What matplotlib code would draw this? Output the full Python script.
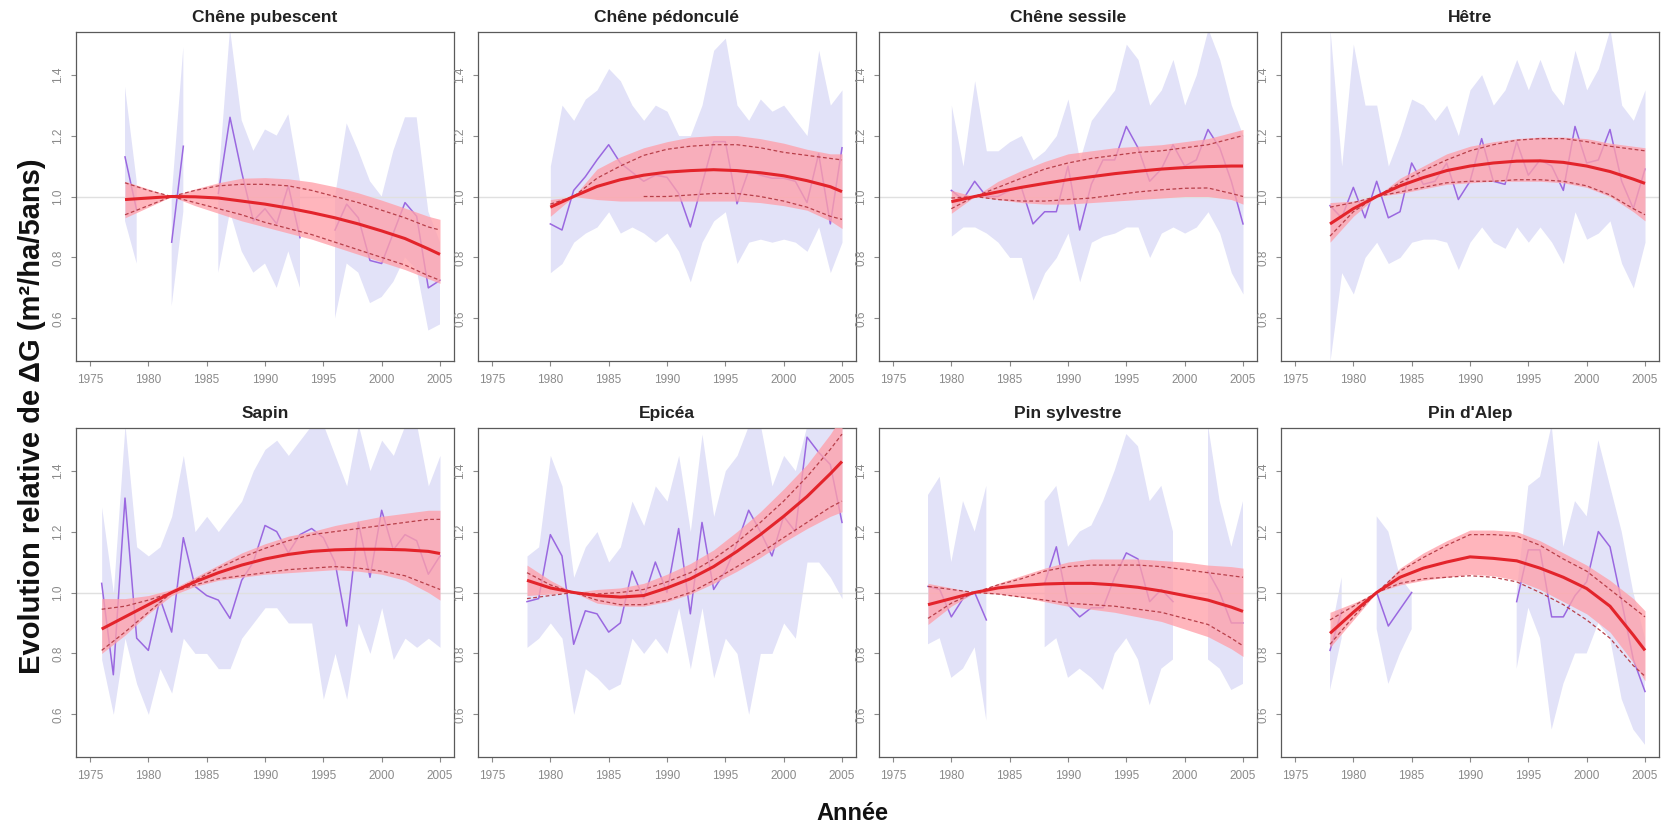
import numpy as np
import matplotlib
matplotlib.use("Agg")
import matplotlib.pyplot as plt

plt.rcParams['font.family'] = ['Liberation Sans', 'DejaVu Sans']

N = None
SPECIES = ["Chêne pubescent", "Chêne pédonculé", "Chêne sessile", "Hêtre",
           "Sapin", "Epicéa", "Pin sylvestre", "Pin d'Alep"]
OBS_YEARS = list(range(1976, 2006))
FIT_START = [1978, 1980, 1980, 1978, 1976, 1978, 1978, 1978]
X_TICKS = [1975, 1980, 1985, 1990, 1995, 2000, 2005]
Y_TICKS = [0.6, 0.8, 1.0, 1.2, 1.4]

# ---- observed mean (purple) and envelope of plots (lavender), 1976..2005 ----
PUB_OBS = [N, N, 1.13, 0.955, N, N, 0.85, 1.165, N, N, 1.01, 1.26, 1.08, 0.92, 0.96, 0.91, 1.035, 0.865,
           N, N, 0.89, 0.975, 0.93, 0.79, 0.78, 0.88, 0.98, 0.935, 0.70, 0.725]
PUB_LO = [N, N, 0.92, 0.78, N, N, 0.64, 0.95, N, N, 0.75, 0.95, 0.82, 0.75, 0.78, 0.70, 0.82, 0.70,
          N, N, 0.60, 0.78, 0.75, 0.65, 0.67, 0.72, 0.80, 0.76, 0.56, 0.58]
PUB_HI = [N, N, 1.36, 1.05, N, N, 1.00, 1.49, N, N, 1.05, 1.55, 1.25, 1.15, 1.22, 1.20, 1.27, 1.05,
          N, N, 1.00, 1.24, 1.15, 1.05, 1.00, 1.15, 1.26, 1.26, 0.95, 0.85]

PED_OBS = [N, N, N, N, 0.91, 0.89, 1.02, 1.065, 1.12, 1.17, 1.11, 1.08, 1.05, 1.07, 1.063, 1.01, 0.90,
           1.04, 1.18, 1.18, 0.976, 1.085, 1.07, 1.06, 1.06, 1.05, 0.98, 1.14, 0.91, 1.16]
PED_LO = [N, N, N, N, 0.75, 0.78, 0.85, 0.88, 0.90, 0.95, 0.88, 0.90, 0.88, 0.85, 0.88, 0.82, 0.72,
          0.85, 0.92, 0.95, 0.78, 0.85, 0.86, 0.85, 0.86, 0.85, 0.82, 0.90, 0.75, 0.85]
PED_HI = [N, N, N, N, 1.10, 1.30, 1.25, 1.32, 1.35, 1.42, 1.38, 1.30, 1.25, 1.30, 1.28, 1.20, 1.20,
          1.30, 1.48, 1.52, 1.30, 1.25, 1.32, 1.28, 1.30, 1.25, 1.20, 1.48, 1.30, 1.35]

SES_OBS = [N, N, N, N, 1.02, 0.99, 1.05, 1.00, 1.00, 1.02, 1.03, 0.91, 0.95, 0.95, 1.10, 0.89, 1.04,
           1.12, 1.12, 1.23, 1.16, 1.05, 1.09, 1.17, 1.10, 1.12, 1.22, 1.16, 1.05, 0.91]
SES_LO = [N, N, N, N, 0.87, 0.90, 0.90, 0.88, 0.85, 0.80, 0.80, 0.66, 0.75, 0.80, 0.88, 0.72, 0.85,
          0.87, 0.88, 0.90, 0.90, 0.80, 0.88, 0.90, 0.88, 0.90, 0.95, 0.88, 0.75, 0.68]
SES_HI = [N, N, N, N, 1.30, 1.10, 1.38, 1.15, 1.15, 1.18, 1.20, 1.12, 1.15, 1.20, 1.32, 1.12, 1.25,
          1.30, 1.35, 1.50, 1.45, 1.30, 1.35, 1.45, 1.30, 1.40, 1.55, 1.45, 1.30, 1.20]

HET_OBS = [N, N, 0.97, 0.93, 1.03, 0.93, 1.05, 0.93, 0.95, 1.11, 1.04, 1.05, 1.11, 0.99, 1.05, 1.19,
           1.05, 1.04, 1.18, 1.07, 1.12, 1.10, 1.02, 1.23, 1.11, 1.12, 1.22, 1.05, 0.96, 1.09]
HET_LO = [N, N, 0.46, 0.75, 0.68, 0.80, 0.85, 0.78, 0.80, 0.85, 0.86, 0.86, 0.85, 0.76, 0.85, 0.90,
          0.85, 0.83, 0.90, 0.85, 0.90, 0.85, 0.78, 0.95, 0.86, 0.88, 0.92, 0.78, 0.70, 0.85]
HET_HI = [N, N, 1.55, 1.10, 1.50, 1.30, 1.30, 1.10, 1.20, 1.32, 1.30, 1.25, 1.30, 1.20, 1.35, 1.40,
          1.30, 1.35, 1.45, 1.35, 1.45, 1.35, 1.30, 1.48, 1.35, 1.42, 1.55, 1.30, 1.25, 1.35]

SAP_OBS = [1.03, 0.73, 1.31, 0.85, 0.81, 0.98, 0.87, 1.18, 1.02, 0.99, 0.975, 0.915, 1.04, 1.10, 1.22,
           1.20, 1.13, 1.19, 1.21, 1.18, 1.10, 0.89, 1.23, 1.05, 1.27, 1.14, 1.19, 1.17, 1.06, 1.12]
SAP_LO = [0.78, 0.60, 0.85, 0.70, 0.60, 0.75, 0.67, 0.85, 0.80, 0.80, 0.75, 0.75, 0.85, 0.90, 0.95,
          0.95, 0.90, 0.90, 0.90, 0.65, 0.80, 0.65, 0.90, 0.80, 0.95, 0.78, 0.85, 0.82, 0.85, 0.82]
SAP_HI = [1.28, 1.00, 1.55, 1.15, 1.12, 1.15, 1.25, 1.45, 1.20, 1.25, 1.20, 1.25, 1.30, 1.40, 1.47,
          1.50, 1.45, 1.50, 1.55, 1.55, 1.45, 1.35, 1.55, 1.40, 1.50, 1.45, 1.55, 1.55, 1.35, 1.45]

EPI_OBS = [N, N, 0.97, 0.98, 1.19, 1.12, 0.83, 0.94, 0.93, 0.87, 0.90, 1.07, 0.98, 1.10, 1.00, 1.21,
           0.93, 1.23, 1.01, 1.07, 1.16, 1.27, 1.20, 1.12, 1.25, 1.20, 1.51, 1.46, 1.42, 1.23]
EPI_LO = [N, N, 0.82, 0.85, 0.90, 0.85, 0.60, 0.75, 0.72, 0.68, 0.70, 0.85, 0.80, 0.85, 0.80, 0.95,
          0.75, 0.95, 0.72, 0.85, 0.80, 0.60, 0.80, 0.80, 0.90, 0.85, 1.10, 1.10, 1.05, 0.98]
EPI_HI = [N, N, 1.12, 1.15, 1.45, 1.35, 1.05, 1.15, 1.20, 1.10, 1.15, 1.30, 1.22, 1.35, 1.30, 1.45,
          1.20, 1.52, 1.25, 1.40, 1.45, 1.55, 1.55, 1.35, 1.45, 1.40, 1.55, 1.55, 1.55, 1.55]

SYL_OBS = [N, N, 1.02, 1.01, 0.92, 0.98, 1.00, 0.91, N, N, N, N, 1.03, 1.15, 0.96, 0.92, 0.95, 0.95,
           1.05, 1.13, 1.11, 0.97, 1.01, 0.97, N, N, 1.07, 1.00, 0.90, 0.90]
SYL_LO = [N, N, 0.83, 0.85, 0.72, 0.75, 0.82, 0.58, N, N, N, N, 0.82, 0.85, 0.72, 0.75, 0.72, 0.68,
          0.80, 0.85, 0.78, 0.63, 0.75, 0.78, N, N, 0.78, 0.75, 0.68, 0.70]
SYL_HI = [N, N, 1.32, 1.38, 1.10, 1.30, 1.20, 1.35, N, N, N, N, 1.30, 1.35, 1.15, 1.20, 1.22, 1.30,
          1.40, 1.52, 1.48, 1.30, 1.35, 1.20, N, N, 1.55, 1.30, 1.15, 1.30]

ALE_OBS = [N, N, 0.81, 0.94, N, N, 1.00, 0.89, 0.945, 1.00, N, N, N, N, N, N, N, N,
           0.97, 1.14, 1.14, 0.92, 0.92, 0.99, 1.035, 1.20, 1.15, 0.97, 0.78, 0.675]
ALE_LO = [N, N, 0.68, 0.85, N, N, 0.88, 0.70, 0.80, 0.88, N, N, N, N, N, N, N, N,
          0.75, 0.95, 0.85, 0.55, 0.70, 0.80, 0.80, 0.90, 0.85, 0.65, 0.55, 0.50]
ALE_HI = [N, N, 0.85, 1.05, N, N, 1.25, 1.20, 1.05, 1.00, N, N, N, N, N, N, N, N,
          1.00, 1.35, 1.38, 1.55, 1.15, 1.30, 1.25, 1.50, 1.35, 1.20, 1.00, 0.85]

# ---- fitted model (every 2 years from start, plus 2005) ----
PUB_FIT = [0.99, 0.995, 1.0, 0.999, 0.995, 0.985, 0.975, 0.962, 0.947, 0.93, 0.91, 0.887, 0.862, 0.828, 0.81]
PUB_BLO = [0.93, 0.965, 1.0, 0.97, 0.945, 0.92, 0.90, 0.88, 0.86, 0.835, 0.81, 0.785, 0.76, 0.73, 0.715]
PUB_BHI = [1.05, 1.025, 1.0, 1.025, 1.045, 1.06, 1.062, 1.058, 1.048, 1.032, 1.012, 0.988, 0.962, 0.935, 0.925]
PUB_DHI = [1.045, 1.02, 1.0, 1.02, 1.035, 1.04, 1.04, 1.035, 1.02, 1.0, 0.98, 0.955, 0.93, 0.90, 0.89]
PUB_DLO = [0.94, 0.97, 1.0, 0.98, 0.96, 0.94, 0.915, 0.895, 0.875, 0.85, 0.825, 0.80, 0.775, 0.74, 0.725]

PED_FIT = [0.965, 1.0, 1.033, 1.055, 1.07, 1.08, 1.085, 1.088, 1.085, 1.078, 1.068, 1.052, 1.032, 1.016]
PED_BLO = [0.935, 1.0, 0.99, 0.985, 0.985, 0.985, 0.985, 0.985, 0.985, 0.98, 0.97, 0.955, 0.92, 0.895]
PED_BHI = [0.99, 1.0, 1.09, 1.13, 1.16, 1.18, 1.195, 1.20, 1.20, 1.19, 1.175, 1.155, 1.14, 1.14]
PED_DHI = [0.975, 1.0, 1.06, 1.10, 1.135, 1.155, 1.165, 1.17, 1.17, 1.16, 1.145, 1.135, 1.125, 1.12]
PED_DLO = [N, N, N, N, 1.0, 1.0, 1.005, 1.01, 1.01, 1.0, 0.985, 0.965, 0.935, 0.925]

SES_FIT = [0.983, 1.0, 1.015, 1.03, 1.043, 1.055, 1.065, 1.075, 1.083, 1.09, 1.095, 1.098, 1.10, 1.10]
SES_BLO = [0.945, 1.0, 0.99, 0.98, 0.975, 0.975, 0.98, 0.985, 0.99, 0.995, 1.0, 1.0, 0.99, 0.975]
SES_BHI = [1.02, 1.0, 1.05, 1.085, 1.115, 1.14, 1.15, 1.16, 1.165, 1.17, 1.18, 1.19, 1.21, 1.22]
SES_DHI = [0.995, 1.0, 1.03, 1.06, 1.09, 1.11, 1.125, 1.135, 1.145, 1.15, 1.16, 1.17, 1.19, 1.20]
SES_DLO = [0.96, 1.0, 0.99, 0.985, 0.985, 0.99, 0.995, 1.005, 1.015, 1.022, 1.027, 1.028, 1.01, 1.0]

HET_FIT = [0.91, 0.96, 1.0, 1.035, 1.062, 1.085, 1.10, 1.11, 1.116, 1.117, 1.112, 1.10, 1.082, 1.057, 1.043]
HET_BLO = [0.85, 0.935, 1.0, 1.01, 1.025, 1.04, 1.045, 1.05, 1.05, 1.05, 1.045, 1.03, 1.0, 0.95, 0.92]
HET_BHI = [0.98, 0.985, 1.0, 1.06, 1.10, 1.14, 1.165, 1.18, 1.19, 1.195, 1.195, 1.19, 1.175, 1.165, 1.16]
HET_DHI = [0.965, 0.98, 1.0, 1.045, 1.085, 1.12, 1.15, 1.17, 1.185, 1.19, 1.19, 1.18, 1.165, 1.155, 1.15]
HET_DLO = [0.87, 0.95, 1.0, 1.015, 1.03, 1.045, 1.05, 1.05, 1.055, 1.055, 1.05, 1.035, 1.005, 0.96, 0.94]

SAP_FIT = [0.88, 0.92, 0.96, 1.0, 1.035, 1.065, 1.09, 1.11, 1.125, 1.135, 1.14, 1.142, 1.142, 1.14, 1.135, 1.128]
SAP_BLO = [0.80, 0.86, 0.93, 0.99, 1.02, 1.04, 1.05, 1.06, 1.065, 1.07, 1.075, 1.07, 1.06, 1.04, 1.0, 0.975]
SAP_BHI = [0.98, 0.98, 0.99, 1.01, 1.05, 1.09, 1.13, 1.16, 1.185, 1.20, 1.22, 1.235, 1.25, 1.26, 1.27, 1.27]
SAP_DHI = [0.945, 0.955, 0.975, 1.0, 1.04, 1.08, 1.115, 1.145, 1.17, 1.19, 1.20, 1.21, 1.22, 1.23, 1.24, 1.24]
SAP_DLO = [0.81, 0.87, 0.935, 1.0, 1.025, 1.045, 1.055, 1.065, 1.075, 1.08, 1.085, 1.08, 1.07, 1.055, 1.025, 1.01]

EPI_FIT = [1.04, 1.015, 1.0, 0.99, 0.985, 0.99, 1.015, 1.045, 1.085, 1.135, 1.19, 1.25, 1.315, 1.39, 1.43]
EPI_BLO = [0.99, 0.995, 1.0, 0.965, 0.955, 0.955, 0.97, 0.995, 1.03, 1.07, 1.115, 1.165, 1.21, 1.25, 1.265]
EPI_BHI = [1.09, 1.04, 1.0, 1.01, 1.015, 1.03, 1.06, 1.095, 1.14, 1.20, 1.265, 1.34, 1.42, 1.52, 1.58]
EPI_DHI = [1.065, 1.025, 1.0, 0.995, 1.0, 1.01, 1.035, 1.065, 1.11, 1.165, 1.23, 1.30, 1.38, 1.47, 1.52]
EPI_DLO = [0.98, 0.99, 1.0, 0.975, 0.96, 0.96, 0.975, 1.0, 1.04, 1.085, 1.13, 1.18, 1.23, 1.28, 1.30]

SYL_FIT = [0.96, 0.98, 1.0, 1.015, 1.023, 1.028, 1.03, 1.03, 1.025, 1.017, 1.005, 0.99, 0.975, 0.952, 0.938]
SYL_BLO = [0.895, 0.955, 1.0, 0.995, 0.985, 0.97, 0.955, 0.945, 0.935, 0.92, 0.905, 0.88, 0.855, 0.815, 0.79]
SYL_BHI = [1.03, 1.015, 1.0, 1.03, 1.055, 1.08, 1.10, 1.11, 1.11, 1.11, 1.105, 1.10, 1.09, 1.085, 1.08]
SYL_DHI = [1.02, 1.01, 1.0, 1.025, 1.045, 1.07, 1.085, 1.09, 1.09, 1.09, 1.085, 1.075, 1.065, 1.055, 1.05]
SYL_DLO = [0.915, 0.965, 1.0, 0.995, 0.985, 0.975, 0.965, 0.96, 0.955, 0.945, 0.935, 0.915, 0.895, 0.85, 0.825]

ALE_FIT = [0.866, 0.935, 1.0, 1.05, 1.08, 1.10, 1.117, 1.112, 1.104, 1.08, 1.05, 1.013, 0.955, 0.86, 0.81]
ALE_BLO = [0.82, 0.91, 1.0, 1.025, 1.04, 1.05, 1.06, 1.055, 1.04, 1.01, 0.97, 0.93, 0.87, 0.77, 0.71]
ALE_BHI = [0.935, 0.965, 1.0, 1.08, 1.13, 1.17, 1.205, 1.205, 1.20, 1.17, 1.13, 1.09, 1.04, 0.98, 0.94]
ALE_DHI = [0.91, 0.955, 1.0, 1.07, 1.115, 1.155, 1.19, 1.19, 1.185, 1.155, 1.11, 1.07, 1.01, 0.95, 0.92]
ALE_DLO = [0.83, 0.92, 1.0, 1.03, 1.045, 1.05, 1.055, 1.05, 1.035, 1.0, 0.96, 0.91, 0.85, 0.76, 0.725]

OBS = [PUB_OBS, PED_OBS, SES_OBS, HET_OBS, SAP_OBS, EPI_OBS, SYL_OBS, ALE_OBS]
ENV_LO = [PUB_LO, PED_LO, SES_LO, HET_LO, SAP_LO, EPI_LO, SYL_LO, ALE_LO]
ENV_HI = [PUB_HI, PED_HI, SES_HI, HET_HI, SAP_HI, EPI_HI, SYL_HI, ALE_HI]
FIT = [PUB_FIT, PED_FIT, SES_FIT, HET_FIT, SAP_FIT, EPI_FIT, SYL_FIT, ALE_FIT]
BLO = [PUB_BLO, PED_BLO, SES_BLO, HET_BLO, SAP_BLO, EPI_BLO, SYL_BLO, ALE_BLO]
BHI = [PUB_BHI, PED_BHI, SES_BHI, HET_BHI, SAP_BHI, EPI_BHI, SYL_BHI, ALE_BHI]
DHI = [PUB_DHI, PED_DHI, SES_DHI, HET_DHI, SAP_DHI, EPI_DHI, SYL_DHI, ALE_DHI]
DLO = [PUB_DLO, PED_DLO, SES_DLO, HET_DLO, SAP_DLO, EPI_DLO, SYL_DLO, ALE_DLO]


def arr(v):
    return np.array([np.nan if x is None else x for x in v], dtype=float)


FW, FH = 1665, 827
fig = plt.figure(figsize=(FW / 100, FH / 100), dpi=100)
LEFTS = [76, 478, 879, 1281]
TOPS = [32, 428]
AW, AH = 378, 329

GRAY = '#8a8a8a'
for i, name in enumerate(SPECIES):
    r, c = divmod(i, 4)
    ax = fig.add_axes([LEFTS[c] / FW, 1 - (TOPS[r] + AH) / FH, AW / FW, AH / FH])
    yrs = np.array(OBS_YEARS, dtype=float)
    lo, hi, mean = arr(ENV_LO[i]), arr(ENV_HI[i]), arr(OBS[i])
    ok = ~np.isnan(lo)
    ax.fill_between(yrs, lo, hi, where=ok, color='#e2e2f8', lw=0, zorder=1)
    ax.axhline(1.0, color='#e0e0e0', lw=1.0, zorder=2)
    ax.plot(yrs, mean, color='#9a68e0', lw=1.1, zorder=3)

    fy = np.array(list(range(FIT_START[i], 2005, 2)) + [2005], dtype=float)
    blo, bhi = arr(BLO[i]), arr(BHI[i])
    ax.fill_between(fy, blo, bhi, color='#ffa0aa', alpha=0.78, lw=0, zorder=4)
    ax.plot(fy, arr(DHI[i]), color='#b8404a', lw=0.9, ls=(0, (3, 2)), zorder=5)
    ax.plot(fy, arr(DLO[i]), color='#b8404a', lw=0.9, ls=(0, (3, 2)), zorder=5)
    ax.plot(fy, arr(FIT[i]), color='#e3242b', lw=2.2, zorder=6, solid_capstyle='butt')

    ax.set_xlim(1973.8, 2006.2)
    ax.set_ylim(0.46, 1.54)
    ax.set_xticks(X_TICKS)
    ax.set_yticks(Y_TICKS)
    ax.set_yticklabels([f"{v:.1f}" for v in Y_TICKS], rotation=90, va='center')
    ax.tick_params(axis='both', length=3.5, width=0.8, color=GRAY, labelcolor=GRAY,
                   labelsize=8.5)
    ax.tick_params(axis='x', pad=6)
    ax.tick_params(axis='y', pad=5)
    for s in ax.spines.values():
        s.set_color('#5a5a5a')
        s.set_linewidth(0.9)
    ax.set_title(name, fontsize=12.5, fontweight='bold', color='#222222', pad=7)

fig.text(32 / FW, 1 - 416 / FH, "Evolution relative de ΔG (m²/ha/5ans)", rotation=90,
         fontsize=21, fontweight='bold', ha='center', va='center', color='#111111')
fig.text(852 / FW, 1 - 813 / FH, "Année", fontsize=17, fontweight='bold',
         ha='center', va='center', color='#111111')

fig.savefig("out.png", dpi=100)
